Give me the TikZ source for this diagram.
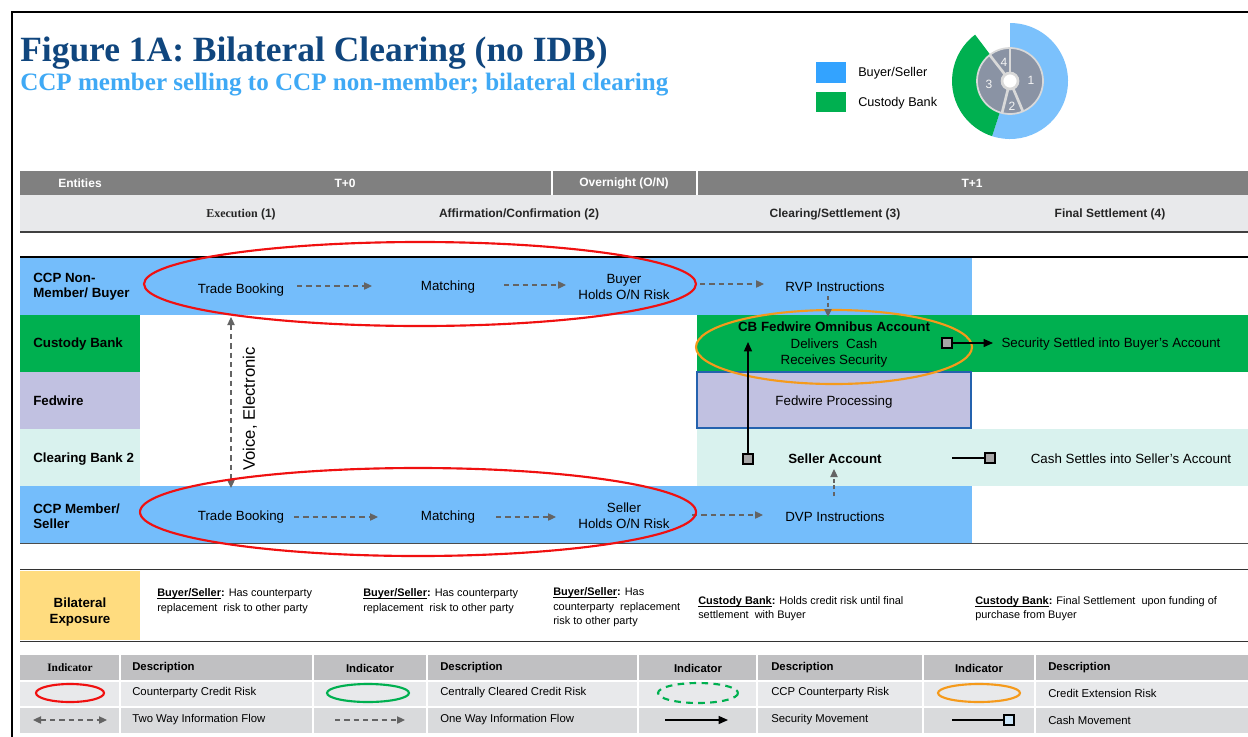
\documentclass[tikz,border=0pt]{standalone}
\usepackage{fontspec}
\setmainfont{Liberation Sans}
\newfontfamily\serifbf{Liberation Serif}
\usetikzlibrary{arrows.meta}
\newcommand\ulbold[1]{\underline{\smash{\textbf{#1}}}}
\definecolor{titleblue}{HTML}{10467E}
\definecolor{subblue}{HTML}{3FA9F5}
\definecolor{rowblue}{HTML}{74BDFB}
\definecolor{donutblue}{HTML}{7BC1FC}
\definecolor{legblue}{HTML}{33A3FF}
\definecolor{cbgreen}{HTML}{00B050}
\definecolor{lavender}{HTML}{C1C1E1}
\definecolor{mint}{HTML}{D9F2EE}
\definecolor{fedborder}{HTML}{2462AE}
\definecolor{hdrdark}{HTML}{808080}
\definecolor{hdrlight}{HTML}{E8E9EB}
\definecolor{flowgray}{HTML}{646464}
\definecolor{sqgray}{HTML}{A6A6A6}
\definecolor{diskgray}{HTML}{8A93A4}
\definecolor{lightsep}{HTML}{D9D9D9}
\definecolor{expyellow}{HTML}{FFDC7F}
\definecolor{riskred}{HTML}{F01010}
\definecolor{riskorange}{HTML}{F59A1B}
\definecolor{lghead}{HTML}{C0C0C2}
\definecolor{lgrowa}{HTML}{E8E9EB}
\definecolor{lgrowb}{HTML}{D9DADC}
\definecolor{cashblue}{HTML}{CDE6F8}
\begin{document}
\begin{tikzpicture}[x=0.75pt,y=-0.75pt,
  flow/.style={draw=flowgray, line width=0.9pt, dash pattern=on 4pt off 3pt, -{Triangle[length=6pt,width=5.5pt]}},
  twoway/.style={draw=flowgray, line width=0.9pt, dash pattern=on 4pt off 3pt, {Triangle[length=6pt,width=5.5pt]}-{Triangle[length=6pt,width=5.5pt]}},
  secmove/.style={draw=black, line width=1pt, -{Triangle[length=7pt,width=6pt]}},
  cashline/.style={draw=black, line width=1pt},
  sqbox/.style={draw=black, fill=sqgray, minimum size=7.5pt, inner sep=0pt, line width=0.8pt},
  entlbl/.style={font=\bfseries\fontsize{10}{11.5}\selectfont, anchor=west, align=left, inner sep=0pt},
  txt/.style={font=\fontsize{10}{12}\selectfont, align=center, inner sep=1pt},
  hdrw/.style={font=\bfseries\fontsize{9}{11}\selectfont, text=white},
  hdrk/.style={font=\bfseries\fontsize{9}{11}\selectfont, text=black!85},
  exptxt/.style={font=\fontsize{8.2}{11}\selectfont, anchor=west, align=left, inner sep=0pt},
  lgtxt/.style={font=\fontsize{8.5}{10}\selectfont, anchor=west, inner sep=0pt},
  lghdr/.style={font=\bfseries\fontsize{8.5}{10}\selectfont, inner sep=0pt},
  redell/.style={draw=riskred, line width=1.6pt},
  orell/.style={draw=riskorange, line width=1.6pt},
  numst/.style={font=\fontsize{9}{10}\selectfont, text=white!92!gray}]
\useasboundingbox (0,0) rectangle (1248,736);
\clip (0,0) rectangle (1248,736);
\fill[white] (0,0) rectangle (1248,736);
% frame
\draw[line width=1.5pt] (11.5,760) -- (11.5,12) -- (1270,12);
% title
\node[anchor=base west, inner sep=0pt, text=titleblue, font=\serifbf\bfseries\fontsize{26.6}{30}\selectfont] (title) at (20,61) {Figure 1A: Bilateral Clearing (no IDB)};
\node[anchor=base west, inner sep=0pt, text=subblue, font=\serifbf\bfseries\fontsize{18.8}{21}\selectfont] (subtitle) at (20,90) {CCP member selling to CCP non-member; bilateral clearing};
% top legend
\fill[legblue] (816,62) rectangle (846,83);
\fill[cbgreen] (816,92) rectangle (846,112);
\node[anchor=west, inner sep=0pt, font=\fontsize{9.5}{11}\selectfont] (lgbs) at (858,73) {Buyer/Seller};
\node[anchor=west, inner sep=0pt, font=\fontsize{9.5}{11}\selectfont] (lgcb) at (858,103) {Custody Bank};
% donut
\begin{scope}[shift={(1010,81)}, yscale=-1]
  \fill[donutblue] (0,0) -- (-108:58) arc[start angle=-108, end angle=90, radius=58] -- cycle;
  \fill[cbgreen] (0,0) -- (127:58) arc[start angle=127, end angle=252, radius=58] -- cycle;
  \fill[diskgray] (0,0) circle[radius=33];
  \draw[lightsep, line width=1.3pt] (0,0) circle[radius=33];
  \foreach \a in {90,-67,-104,128} \draw[lightsep, line width=2pt] (0,0) -- (\a:33);
  \fill[white] (0,0) circle[radius=9];
  \draw[lightsep, line width=2pt] (0,0) circle[radius=8];
\end{scope}
\node[numst] (n1) at (1031,80) {1};
\node[numst] (n2) at (1012,106) {2};
\node[numst] (n3) at (989,84) {3};
\node[numst] (n4) at (1004,62) {4};
% header bars
\fill[hdrdark] (20,171) rectangle (1248,195);
\draw[white, line width=1.2pt] (552,171) -- (552,195);
\draw[white, line width=1.2pt] (697,171) -- (697,195);
\fill[hdrlight] (20,195) rectangle (1248,232);
\draw[black!75, line width=1.1pt] (20,232) -- (1248,232);
\node[hdrw] (hent) at (80,183) {Entities};
\node[hdrw] (ht0) at (345,183) {T+0};
\node[hdrw] (hon) at (624,183) {Overnight (O/N)};
\node[hdrw] (ht1) at (972,183) {T+1};
\node[hdrk] (hexe) at (241,214) {{\serifbf\bfseries Execution} (1)};
\node[hdrk] (haff) at (519,214) {Affirmation/Confirmation (2)};
\node[hdrk] (hcle) at (835,214) {Clearing/Settlement (3)};
\node[hdrk] (hfin) at (1110,214) {Final Settlement (4)};
% rows
\fill[rowblue] (20,258) rectangle (972,315);
\fill[cbgreen] (20,315) rectangle (140,372);
\fill[cbgreen] (697,315) rectangle (1248,372);
\fill[lavender] (20,372) rectangle (140,429);
\fill[mint] (20,429) rectangle (140,486);
\fill[mint] (697,429) rectangle (1248,486);
\fill[rowblue] (20,486) rectangle (972,543);
\fill[lavender] (697,372) rectangle (971,428);
\draw[fedborder, line width=1.5pt] (697,372) rectangle (971,428);
\draw[black, line width=0.8pt] (20,257) -- (1248,257);
\draw[black!70, line width=0.8pt] (20,543.5) -- (1248,543.5);
% entity labels
\node[entlbl] (e1) at (33,287) {CCP Non-\\Member/ Buyer};
\node[entlbl] (e2) at (33,344) {Custody Bank};
\node[entlbl] (e3) at (33,401) {Fedwire};
\node[entlbl] (e4) at (33,459) {Clearing Bank 2};
\node[entlbl] (e5) at (33,516) {CCP Member/\\Seller};
% row 1
\node[txt] (tb1) at (241,290) {Trade Booking};
\node[txt] (m1) at (448,287) {Matching};
\node[txt] (bh) at (624,287) {Buyer\\Holds O/N Risk};
\node[txt] (rvp) at (835,287) {RVP Instructions};
\coordinate (a1s) at (297,286); \coordinate (a1e) at (372,286);
\coordinate (a2s) at (504,285); \coordinate (a2e) at (566,285);
\coordinate (a3s) at (700,284); \coordinate (a3e) at (764,284);
\draw[flow] (a1s) -- (a1e);
\draw[flow] (a2s) -- (a2e);
\draw[flow] (a3s) -- (a3e);
% row 5
\node[txt] (tb2) at (241,517) {Trade Booking};
\node[txt] (m2) at (448,517) {Matching};
\node[txt] (sh) at (624,516) {Seller\\Holds O/N Risk};
\node[txt] (dvp) at (835,517) {DVP Instructions};
\coordinate (b1s) at (294,517); \coordinate (b1e) at (378,517);
\coordinate (b2s) at (496,517); \coordinate (b2e) at (556,517);
\coordinate (b3s) at (692,515); \coordinate (b3e) at (763,515);
\draw[flow] (b1s) -- (b1e);
\draw[flow] (b2s) -- (b2e);
\draw[flow] (b3s) -- (b3e);
% voice electronic
\coordinate (ve1) at (231,317); \coordinate (ve2) at (231,488);
\draw[twoway] (ve1) -- (ve2);
\node[rotate=90, font=\fontsize{12.5}{14}\selectfont, inner sep=0pt] (ve) at (250,409) {Voice, Electronic};
% red ellipses
\draw[redell] (420,284) ellipse[x radius=276, y radius=42];
\draw[redell] (418,512) ellipse[x radius=278, y radius=44];
% right side
\node[txt, font=\fontsize{10}{12.4}\selectfont] (omni) at (834,345) {\textbf{CB Fedwire Omnibus Account}\\Delivers\ \ Cash\\Receives Security};
\draw[orell] (834,347) ellipse[x radius=138, y radius=37];
\node[txt] (fedp) at (834,402) {Fedwire Processing};
\node[txt, font=\bfseries\fontsize{10}{12}\selectfont] (sa) at (835,459) {Seller Account};
\node[txt] (ssb) at (1111,344) {Security\ Settled into Buyer's\ Account};
\node[txt] (csa) at (1131,459) {Cash Settles into Seller's\ Account};
\coordinate (rv1) at (828,296); \coordinate (rv2) at (828,317);
\draw[flow, dash pattern=on 3pt off 2pt] (rv1) -- (rv2);
\coordinate (dv1) at (834,496); \coordinate (dv2) at (834,469);
\draw[flow, dash pattern=on 3pt off 2pt] (dv1) -- (dv2);
\node[sqbox] (sq1) at (748,459) {};
\node[sqbox] (sq2) at (947,343) {};
\node[sqbox] (sq3) at (990,458) {};
\coordinate (s1e) at (748,342);
\draw[secmove] (sq1.north) -- (s1e);
\coordinate (s2e) at (993,343);
\draw[secmove] (sq2.east) -- (s2e);
\coordinate (c3s) at (952,458);
\draw[cashline] (c3s) -- (sq3.west);
% exposure row
\fill[expyellow] (20,571) rectangle (140,640);
\draw[black!80, line width=1.4pt] (20,569.5) -- (1248,569.5);
\draw[black!80, line width=1.4pt] (20,641.5) -- (1248,641.5);
\node[font=\bfseries\fontsize{10}{12}\selectfont, align=center] (bexp) at (80,612) {Bilateral\\Exposure};
\node[exptxt] (x1) at (157,601.5) {\ulbold{Buyer/Seller}\textbf{:} Has counterparty\\replacement\ \ risk to other party};
\node[exptxt] (x2) at (363,601.5) {\ulbold{Buyer/Seller}\textbf{:} Has counterparty\\replacement\ \ risk to other party};
\node[exptxt] (x3) at (553,607.5) {\ulbold{Buyer/Seller}\textbf{:} Has\\counterparty\ \ replacement\\risk to other party};
\node[exptxt] (x4) at (698,608.5) {\ulbold{Custody Bank}\textbf{:} Holds credit risk until final\\settlement\ \ with Buyer};
\node[exptxt] (x5) at (975,608.5) {\ulbold{Custody Bank}\textbf{:} Final Settlement\ \ upon funding of\\purchase from Buyer};
% legend table
\fill[lghead] (20,655) rectangle (1248,680);
\fill[lgrowa] (20,680) rectangle (1248,706);
\fill[lgrowb] (20,706) rectangle (1248,733);
\foreach \xx in {120,313,427,638,757,923,1035} \draw[white, line width=1.5pt] (\xx,655) -- (\xx,733);
\draw[white, line width=1.5pt] (20,680.5) -- (1248,680.5);
\draw[white, line width=1.5pt] (20,706.5) -- (1248,706.5);
\node[lghdr, font=\serifbf\bfseries\fontsize{8.5}{10}\selectfont] (li1) at (70,668) {Indicator};
\node[lghdr] (li2) at (370,668) {Indicator};
\node[lghdr] (li3) at (698,668) {Indicator};
\node[lghdr] (li4) at (979,668) {Indicator};
\node[lghdr, anchor=west] (ld1) at (132,668) {Description};
\node[lghdr, anchor=west] (ld2) at (440,668) {Description};
\node[lghdr, anchor=west] (ld3) at (771,668) {Description};
\node[lghdr, anchor=west] (ld4) at (1048,668) {Description};
\node[lgtxt] (t11) at (132,693) {Counterparty\ Credit Risk};
\node[lgtxt] (t12) at (440,693) {Centrally\ Cleared Credit Risk};
\node[lgtxt] (t13) at (771,693) {CCP Counterparty\ Risk};
\node[lgtxt] (t14) at (1048,693) {Credit Extension Risk};
\node[lgtxt] (t21) at (132,720) {Two Way Information\ Flow};
\node[lgtxt] (t22) at (440,720) {One Way Information\ Flow};
\node[lgtxt] (t23) at (771,720) {Security Movement};
\node[lgtxt] (t24) at (1048,720) {Cash Movement};
\draw[redell] (70,693) ellipse[x radius=34, y radius=9];
\draw[draw=cbgreen, line width=1.6pt] (368,693) ellipse[x radius=41, y radius=9];
\draw[draw=cbgreen, line width=1.6pt, dash pattern=on 5pt off 4pt] (698,693) ellipse[x radius=40, y radius=10];
\draw[orell] (979,693) ellipse[x radius=41, y radius=9];
\coordinate (l1s) at (33,720); \coordinate (l1e) at (107,720);
\draw[twoway] (l1s) -- (l1e);
\coordinate (l2s) at (335,720); \coordinate (l2e) at (405,720);
\draw[flow] (l2s) -- (l2e);
\coordinate (l3s) at (665,720); \coordinate (l3e) at (728,720);
\draw[secmove] (l3s) -- (l3e);
\node[sqbox, fill=cashblue] (lsq) at (1009,720) {};
\coordinate (l4s) at (952,720);
\draw[cashline] (l4s) -- (lsq.west);
\end{tikzpicture}
\end{document}
